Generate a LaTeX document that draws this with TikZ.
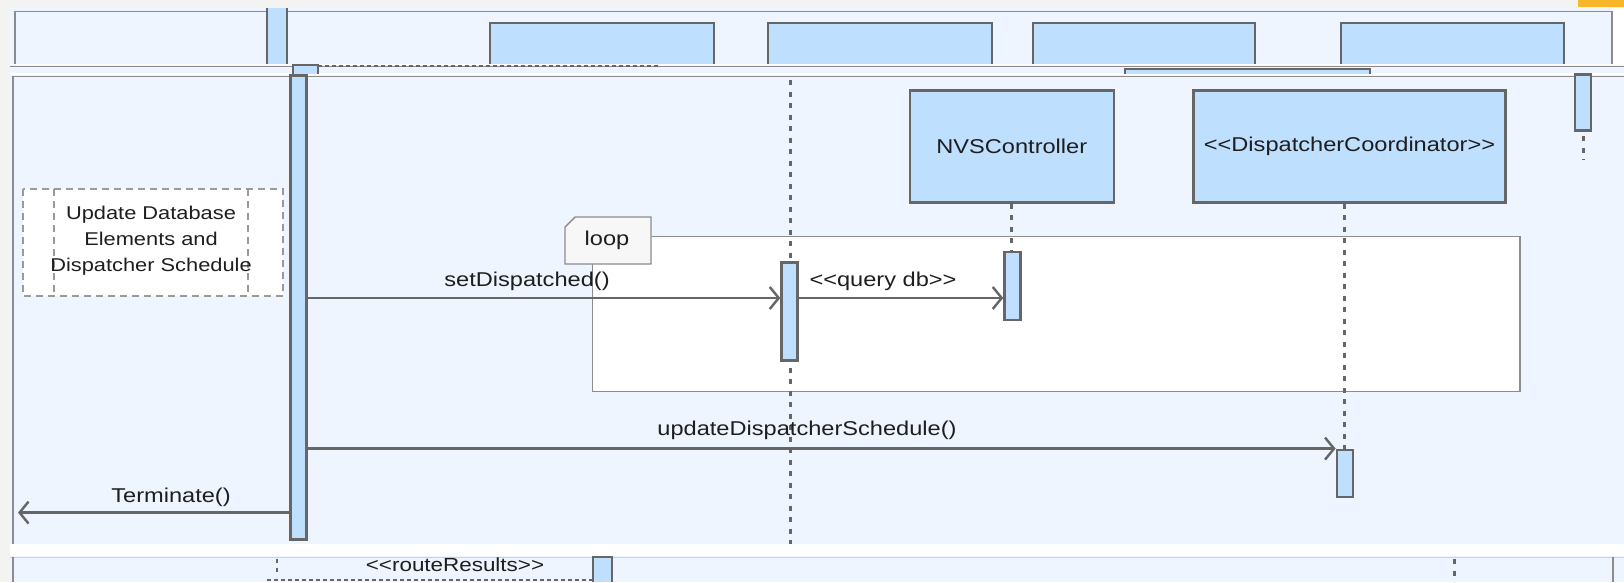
\documentclass[tikz,border=0pt]{standalone}
\usepackage{fontspec}
\setmainfont{Liberation Sans}[FakeStretch=1.18]
\usepackage{xcolor}
\usetikzlibrary{positioning, arrows.meta}

\definecolor{pagegray}{HTML}{F3F3F1}
\definecolor{stripblue}{HTML}{EEF5FE}
\definecolor{headblue}{HTML}{BEDFFD}
\definecolor{linegray}{HTML}{666666}
\definecolor{framegray}{HTML}{8C8C8C}
\definecolor{notegray}{HTML}{9A9A9A}
\definecolor{tabfill}{HTML}{F7F7F7}
\definecolor{textdark}{HTML}{1E1E1E}
\definecolor{taborange}{HTML}{F8B62A}

% stereotype brackets, kept apart so they stay two characters
\newcommand{\stlft}{<\kern0pt<}
\newcommand{\strgt}{>\kern0pt>}

\begin{document}
\begin{tikzpicture}[x=1pt, y=-1pt,
    headbox/.style={draw=linegray, line width=2.6pt, fill=headblue, inner sep=0pt, text=textdark, font=\fontsize{20}{24}\selectfont},
    actbar/.style={draw=linegray, line width=2.4pt, fill=headblue, inner sep=0pt, minimum width=16pt},
    lifeline/.style={linegray, line width=3pt, dash pattern=on 5pt off 6.5pt},
    msg/.style={linegray, line width=2.4pt, -{Straight Barb[length=9pt, width=22pt, line width=2.4pt]}},
    msglabel/.style={inner sep=0pt, text=textdark, font=\fontsize{20}{24}\selectfont},
    notebox/.style={notegray, line width=1.6pt, dash pattern=on 7pt off 5pt},
    edge/.style={framegray, line width=1.4pt}
]
\useasboundingbox (0,0) rectangle (1624,582);

% ---- Page and strips ----
\fill[white] (0,0) rectangle (1624,582);
\fill[pagegray] (0,0) rectangle (1624,8);
\fill[pagegray] (0,0) rectangle (10,582);
\fill[taborange] (1578,0) rectangle (1624,7);
\fill[stripblue] (10,8) rectangle (1612,64);
\fill[stripblue] (10,65) rectangle (1624,73);
\fill[stripblue] (10,74.5) rectangle (1624,544);
\fill[stripblue] (10,556) rectangle (1624,582);

% ---- Top strip ----
\draw[edge] (15,64) -- (15,11.5) -- (1612,11.5) -- (1612,64);
\fill[headblue] (267,8) rectangle (287,64);
\draw[linegray, line width=2.4pt] (267,8) -- (267,64) (287,8) -- (287,64);
\foreach \l/\r in {490/714, 768/992, 1033/1255, 1341/1564} {
  \fill[headblue] (\l,23) rectangle (\r,64);
  \draw[linegray, line width=2.6pt] (\l,64) |- (\r,23) -- (\r,64);
}

% ---- Thin strip ----
\draw[edge] (10,66.5) -- (1624,66.5);
\draw[linegray, line width=2pt, dash pattern=on 4pt off 3pt] (318,65.5) -- (660,65.5);
\draw[linegray, line width=2pt, fill=headblue] (293,74) |- (318,65) -- (318,74);
\fill[headblue] (1125,69) rectangle (1370,74);
\draw[linegray, line width=2.6pt] (1125,74) |- (1370,69) -- (1370,74);

% ---- Main strip ----
\draw[edge] (13,544) -- (13,76.5) -- (1624,76.5);

% Note
\fill[white] (22.7,189) rectangle (283,296);
\draw[notebox] (22.7,189) rectangle (283,296);
\draw[notebox] (54,189) -- (54,296);
\draw[notebox] (248,189) -- (248,296);
\node[msglabel, align=center, font=\fontsize{18.5}{26}\selectfont] (note) at (151,241)
    {Update Database\\Elements and\\Dispatcher Schedule};

% Loop frame
\fill[white] (592.7,236.7) rectangle (1520,391.5);
\draw[edge] (592.7,264) -- (592.7,391.5) -- (1520,391.5) -- (1520,236.7) -- (651,236.7);
\draw[edge, fill=tabfill] (565,227) -- (575,217) -- (651,217) -- (651,264) -- (565,264) -- cycle;
\node[msglabel] (loopTag) at (607,240) {loop};

% Lifeline heads
\node[headbox, minimum width=204pt, minimum height=112pt] (nvs) at (1011.8,146.6) {NVSController};
\node[headbox, minimum width=312pt, minimum height=112pt] (disp) at (1349.5,146.6) {\stlft DispatcherCoordinator\strgt};

% Lifelines
\draw[lifeline] (790,80) -- (790,544);
\draw[lifeline] (1583,136) -- (1583,160);

% Activation bars
\node[actbar, minimum height=464pt] (actA) at (298.3,307.5) {};
\node[actbar, minimum height=98pt] (actLoop) at (789.5,311.5) {};
\node[actbar, minimum height=68pt] (actNvs) at (1012.5,286.2) {};
\node[actbar, minimum height=47pt] (actDisp) at (1344.8,473.3) {};
\node[actbar, minimum height=56pt] (actR) at (1583,102.5) {};

\draw[lifeline] (nvs.south) -- (nvs.south |- actNvs.north);
\draw[lifeline] (actDisp.north |- disp.south) -- (actDisp.north);

% ---- Messages ----
\coordinate (ySet) at (0,298);
\coordinate (exitL) at (18,512.6);
\draw[msg] (actA.east |- ySet) -- (actLoop.west |- ySet);
\node[msglabel] (lblSet) at (527,281) {setDispatched()};
\draw[msg] (actLoop.east |- ySet) -- (actNvs.west |- ySet);
\node[msglabel] (lblQuery) at (883,281) {\stlft query db\strgt};
\draw[msg] (actA.east |- actDisp.north west) -- (actDisp.north west);
\node[msglabel] (lblUpdate) at (807,430) {updateDispatcherSchedule()};
\draw[msg] (actA.west |- exitL) -- (exitL);
\node[msglabel] (lblTerm) at (171,497) {Terminate()};

% ---- Bottom strip ----
\draw[line width=1pt, black!18] (10,557) -- (1624,557);
\draw[edge] (13,557) -- (13,582);
\draw[edge] (1613,557) -- (1613,582);
\draw[linegray, line width=2.4pt, dash pattern=on 4pt off 5pt] (277,559) -- (277,577);
\draw[linegray, line width=2.2pt, dash pattern=on 4pt off 3pt] (267,580) -- (593,580);
\node[msglabel, font=\fontsize{19}{23}\selectfont] (lblRoute) at (455,565) {\stlft routeResults\strgt};
\draw[linegray, line width=2.4pt, fill=headblue] (593,582) -- (593,557) -- (612,557) -- (612,582);
\draw[lifeline] (1454,559) -- (1454,582);

\end{tikzpicture}
\end{document}
